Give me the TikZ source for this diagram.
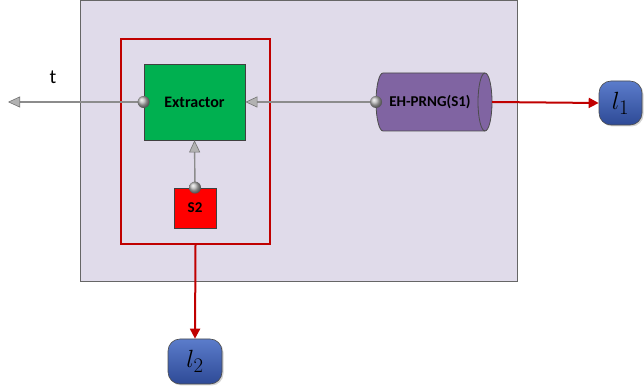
\documentclass[tikz,border=0pt]{standalone}
\usepackage{fontspec}
\setmainfont{Carlito}
\usetikzlibrary{arrows.meta,shadows}
\definecolor{boxbg}{HTML}{E0DBEA}
\definecolor{redline}{HTML}{C00000}
\definecolor{exgreen}{HTML}{00B050}
\definecolor{cylpurple}{HTML}{8064A2}
\definecolor{ltop}{HTML}{5B7CCB}
\definecolor{lbot}{HTML}{2E4A96}
\definecolor{gline}{HTML}{8C8C8C}
\tikzset{
  grayline/.style={draw=gline, line width=1.4pt, -{Triangle[length=12pt,width=11pt,fill=gray!60,color=gray!90!black,line width=0.6pt]}},
  redarrow/.style={draw=redline, line width=2pt, -{Triangle[length=10pt,width=10pt]}},
  blockbox/.style={draw=black!75, line width=0.8pt, inner sep=0pt},
  endbox/.style={rounded corners=12pt, draw=black!70, line width=0.6pt, top color=ltop, bottom color=lbot, inner sep=0pt, drop shadow={opacity=0.35, shadow xshift=1.5pt, shadow yshift=-1.5pt}},
  port/.style={ball color=gray!55},
}
\begin{document}
\begin{tikzpicture}[x=1pt,y=1pt]
\useasboundingbox (0,0) rectangle (644,390);
% outer box
\node[draw=gray!80!black, line width=0.8pt, fill=boxbg, minimum width=437pt, minimum height=281pt, anchor=south west, inner sep=0pt] (outer) at (80,108) {};
% group box
\node[draw=redline, line width=2pt, minimum width=149pt, minimum height=205pt, anchor=south west, inner sep=0pt] (grp) at (120,145) {};
% extractor
\node[blockbox, fill=exgreen, minimum width=101pt, minimum height=76pt, font=\fontsize{16}{18}\selectfont\bfseries] (ex) at (194.5,288) {Extractor};
% S2
\node[blockbox, fill=red, minimum width=42pt, minimum height=40pt, font=\fontsize{15}{17}\selectfont\bfseries] (s2) at (195,182) {S2};
% cylinder
\filldraw[fill=cylpurple, draw=black!70, line width=0.8pt] (383,317) -- (485,317) arc[start angle=90, end angle=-90, x radius=7, y radius=29] -- (383,259) arc[start angle=270, end angle=90, x radius=7, y radius=29] -- cycle;
\draw[draw=black!70, line width=0.8pt] (485,317) arc[start angle=90, end angle=270, x radius=7, y radius=29];
\node[font=\fontsize{15}{17}\selectfont\bfseries, inner sep=0pt] (cyl) at (430,288) {EH-PRNG(S1)};
\coordinate (cylw) at (376,288);
\coordinate (cyle) at (492,288);
% end nodes
\node[endbox, minimum width=43pt, minimum height=44pt, font=\fontsize{30}{32}\selectfont] (l1) at (620.5,287) {$l_1$};
\node[endbox, minimum width=54pt, minimum height=45pt, font=\fontsize{30}{32}\selectfont] (l2) at (195,28.5) {$l_2$};
% t
\coordinate (tend) at (8,288);
\node[font=\fontsize{20}{22}\selectfont] (tlab) at (53,313) {t};
% connectors
\draw[grayline] (ex.west) -- (tend);
\draw[grayline] (cylw) -- (ex.east);
\draw[grayline] (s2.north) -- (ex.south);
\draw[redarrow] (cyle) -- (l1.west);
\draw[redarrow] (grp.south) -- (l2.north);
% ports
\shade[port] (ex.west) circle (6);
\shade[port] (cylw) circle (6);
\shade[port] (s2.north) circle (6);
\end{tikzpicture}
\end{document}
